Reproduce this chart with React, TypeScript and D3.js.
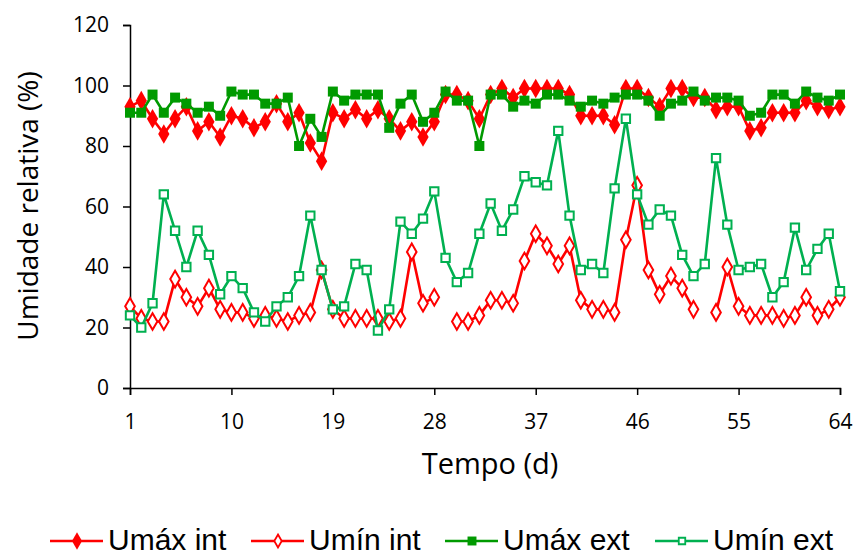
import React, { useRef, useEffect } from 'react';
import { select, scaleLinear, line, axisLeft, axisBottom, symbol, symbolDiamond, symbolSquare } from 'd3';

const days = Array.from({ length: 64 }, (_, i) => i + 1);
const xTicks = [1, 10, 19, 28, 37, 46, 55, 64];
const yTicks = [0, 20, 40, 60, 80, 100, 120];

const umaxInt = [93, 95, 89, 84, 89, 93, 85, 88, 83, 90, 89, 86, 88, 94, 88, 91, 81, 75, 91, 89,
  92, 89, 92, 89, 85, 88, 83, 88, 97, 97, 95, 89, 97, 99, 96, 99, 99, 99, 99, 97,
  90, 90, 90, 87, 99, 99, 96, 93, 99, 99, 96, 96, 92, 93, 93, 85, 86, 91, 91, 91,
  95, 93, 92, 93];
const uminInt: (number | null)[] = [27, 23, 22, 22, 36, 30, 27, 33, 26, 25, 25, 23, 24, 23, 22, 24, 25, 39, 26, 23,
  23, 23, 23, 22, 23, 45, 28, 30, null, 22, 22, 24, 29, 29, 28, 42, 51, 47, 41, 47,
  29, 26, 26, 25, 49, 67, 39, 31, 37, 33, 26, null, 25, 40, 27, 24, 24, 24, 23, 24,
  30, 24, 26, 30];
const umaxExt = [91, 91, 97, 91, 96, 94, 91, 93, 90, 98, 97, 97, 94, 94, 96, 80, 89, 83, 98, 95,
  97, 97, 97, 86, 94, 97, 88, 91, 98, 95, 95, 80, 97, 97, 93, 95, 94, 97, 97, 95,
  93, 95, 94, 96, 97, 97, 95, 90, 94, 95, 98, 95, 96, 96, 95, 90, 91, 97, 97, 94,
  98, 96, 95, 97];
const uminExt = [24, 20, 28, 64, 52, 40, 52, 44, 31, 37, 33, 25, 22, 27, 30, 37, 57, 39, 26, 27,
  41, 39, 19, 26, 55, 51, 56, 65, 43, 35, 38, 51, 61, 52, 59, 70, 68, 67, 85, 57,
  39, 41, 38, 66, 89, 64, 54, 59, 57, 44, 37, 41, 76, 54, 39, 40, 41, 30, 35, 53,
  39, 46, 51, 32];

const series = [
  { name: 'Umáx int', values: umaxInt, color: '#ff0000', shape: symbolDiamond, size: 110, filled: true },
  { name: 'Umín int', values: uminInt, color: '#ff0000', shape: symbolDiamond, size: 80, filled: false },
  { name: 'Umáx ext', values: umaxExt, color: '#009a00', shape: symbolSquare, size: 100, filled: true },
  { name: 'Umín ext', values: uminExt, color: '#00b050', shape: symbolSquare, size: 70, filled: false },
];

const legendX = [50, 251, 445, 655];

const Chart = () => {
  const svgRef = useRef<SVGSVGElement>(null);

  useEffect(() => {
    const svg = select(svgRef.current);
    svg.selectAll('*').remove();

    const x = scaleLinear().domain([1, 64]).range([130, 840]);
    const y = scaleLinear().domain([0, 120]).range([388, 25]);
    const font = 'Open Sans, Liberation Sans, sans-serif';

    const yAxis = svg.append('g')
      .attr('transform', 'translate(130,0)')
      .call(axisLeft(y).tickValues(yTicks).tickSize(7).tickPadding(14));
    const xAxis = svg.append('g')
      .attr('transform', 'translate(0,388)')
      .call(axisBottom(x).tickValues(xTicks).tickSize(7).tickPadding(19));
    [yAxis, xAxis].forEach(g => {
      g.select('.domain').attr('stroke', '#000').attr('stroke-width', 1.5);
      g.selectAll('.tick line').attr('stroke', '#000').attr('stroke-width', 1.5);
      g.selectAll('.tick text')
        .attr('fill', '#000')
        .style('font-family', font)
        .style('font-size', '21px');
    });

    const path = line<number | null>()
      .defined(d => d != null)
      .x((d, i) => x(days[i]))
      .y(d => y(d as number));

    series.forEach(s => {
      const g = svg.append('g');
      g.append('path')
        .attr('d', path(s.values))
        .attr('fill', 'none')
        .attr('stroke', s.color)
        .attr('stroke-width', 2.6);
      g.selectAll('path.pt')
        .data(s.values.map((v, i) => ({ v, i })).filter(d => d.v != null))
        .join('path')
        .attr('class', 'pt')
        .attr('d', symbol(s.shape, s.size)())
        .attr('transform', d => `translate(${x(days[d.i])},${y(d.v as number)})`)
        .attr('fill', s.filled ? s.color : '#fff')
        .attr('stroke', s.color)
        .attr('stroke-width', s.filled ? 0 : 2);
    });

    svg.append('text')
      .attr('transform', 'translate(38,206) rotate(-90)')
      .attr('text-anchor', 'middle')
      .style('font-family', font)
      .style('font-size', '28px')
      .text('Umidade relativa (%)');

    svg.append('text')
      .attr('x', 490)
      .attr('y', 474)
      .attr('text-anchor', 'middle')
      .style('font-family', font)
      .style('font-size', '29px')
      .text('Tempo (d)');

    const legend = svg.append('g');
    series.forEach((s, k) => {
      const lx = legendX[k];
      legend.append('line')
        .attr('x1', lx).attr('x2', lx + 53)
        .attr('y1', 541).attr('y2', 541)
        .attr('stroke', s.color).attr('stroke-width', 2.6);
      legend.append('path')
        .attr('d', symbol(s.shape, s.filled ? s.size * 0.8 : s.size * 0.6)())
        .attr('transform', `translate(${lx + 27},541)`)
        .attr('fill', s.filled ? s.color : '#fff')
        .attr('stroke', s.color)
        .attr('stroke-width', s.filled ? 0 : 1.8);
      legend.append('text')
        .attr('x', lx + 58)
        .attr('y', 550)
        .style('font-family', 'Liberation Sans Narrow, Liberation Sans, sans-serif')
        .style('font-size', '30px')
        .text(s.name);
    });
  }, []);

  return (
    <svg
      ref={svgRef}
      width={856}
      height={556}
      style={{ display: 'block', position: 'absolute', left: 0, top: 0 }}
    />
  );
};

export default function App() {
  return <Chart />;
}
